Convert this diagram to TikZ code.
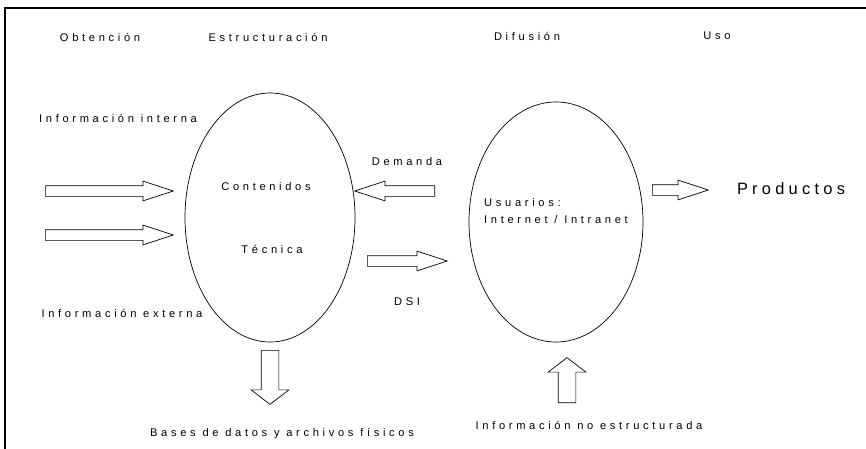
\documentclass[tikz,border=0pt]{standalone}
\usepackage{fontspec}
\setmainfont{Liberation Sans}[LetterSpace=33]
\newfontfamily\prodfont{Liberation Sans}[LetterSpace=26]
\usetikzlibrary{shapes.geometric, shapes.arrows, positioning}

\tikzset{
  lbl/.style={inner sep=0pt, font=\fontsize{9.5}{11}\selectfont},
  stage/.style={draw, ellipse, line width=0.6pt, inner sep=0pt},
  harrow/.style={draw, single arrow, anchor=tail, line width=0.6pt, inner xsep=0pt, inner ysep=0.15cm,
    minimum width=0pt, single arrow head extend=0.135cm, single arrow tip angle=36},
  varrow/.style={draw, single arrow, anchor=tail, line width=0.6pt, inner xsep=0pt, inner ysep=0.255cm,
    minimum width=0pt, single arrow head extend=0.3cm, single arrow tip angle=105}
}

\begin{document}
\begin{tikzpicture}[x=0.03cm, y=-0.03cm]
\useasboundingbox (0,0) rectangle (866,449);
% frame
\draw[line width=0.9pt] (5,449) -- (5,8) -- (866,8);

% column titles
\node[lbl] (obt) at (100,37) {Obtención};
\node[lbl] (estr) at (268,37) {Estructuración};
\node[lbl] (difu) at (527,36) {Difusión};
\node[lbl] (uso) at (717,36) {Uso};

% the two stages
\node[stage, minimum width=5.1cm, minimum height=7.47cm] (est) at (270,217.5) {};
\node[stage, minimum width=5.22cm, minimum height=7.2cm] (dif) at (556,222) {};

% texts
\node[lbl] (intern) at (118,118) {Información interna};
\node[lbl] (extern) at (122,313) {Información externa};
\node[lbl] (cont) at (266,187) {Contenidos};
\node[lbl] (tec) at (272,249) {Técnica};
\node[lbl] (dem) at (407,162) {Demanda};
\node[lbl] (dsi) at (407,302) {DSI};
\node[lbl, anchor=west] (usu) at (484,203) {Usuarios:};
\node[lbl, anchor=west] (inet) at (484,220) {Internet / Intranet};
\node[inner sep=0pt, font=\prodfont\fontsize{14}{16}\selectfont] (prod) at (791,189) {Productos};
\node[lbl] (bases) at (282,434) {Bases de datos y archivos físicos};
\node[lbl] (noest) at (589,425) {Información no estructurada};

% block arrows
\node[harrow, minimum height=3.84cm] (in1) at (45,191) {};
\node[harrow, minimum height=3.84cm] (in2) at (45,235) {};
\node[harrow, minimum height=2.4cm, rotate=180] (ademanda) at (435,191) {};
\node[harrow, minimum height=2.4cm] (adsi) at (367,261) {};
\node[harrow, minimum height=1.68cm] (aprod) at (652,190) {};
\node[varrow, minimum height=1.62cm, rotate=-90] (abases) at (270,350) {};
\node[varrow, minimum height=1.35cm, rotate=90] (anoest) at (567,403) {};
\end{tikzpicture}
\end{document}
